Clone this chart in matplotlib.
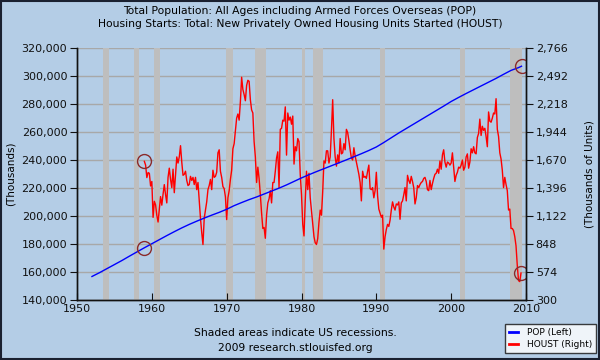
import numpy as np
import matplotlib
matplotlib.use("Agg")
import matplotlib.pyplot as plt
from matplotlib.ticker import FuncFormatter
from matplotlib.lines import Line2D


# =========================
# Data
# =========================
# POP (thousands), annual, last point = mid 2009
pop_years = [1952, 1953, 1954, 1955, 1956, 1957, 1958, 1959, 1960, 1961,
             1962, 1963, 1964, 1965, 1966, 1967, 1968, 1969, 1970, 1971,
             1972, 1973, 1974, 1975, 1976, 1977, 1978, 1979, 1980, 1981,
             1982, 1983, 1984, 1985, 1986, 1987, 1988, 1989, 1990, 1991,
             1992, 1993, 1994, 1995, 1996, 1997, 1998, 1999, 2000, 2001,
             2002, 2003, 2004, 2005, 2006, 2007, 2008, 2009, 2009.4]
pop = [156800, 159500, 162400, 165300, 168200, 171300, 174300, 177300, 180200, 183100,
       186000, 188800, 191500, 194000, 196300, 198500, 200600, 202600, 204800, 207400,
       209600, 211700, 213600, 215700, 217800, 219900, 222200, 224700, 227200, 229500,
       231700, 233800, 235900, 238000, 240100, 242300, 244500, 246800, 249300, 252500,
       255900, 259300, 262500, 265700, 268900, 272100, 275300, 278500, 281800, 284700,
       287500, 290200, 292900, 295600, 298300, 301200, 304000, 306000, 307000]

# HOUST (thousands of units), every two months: Jan, Mar, May, Jul, Sep, Nov
houst = [
    1657, 1620, 1498, 1547, 1540, 1416,   # 1959
    1460, 1109, 1266, 1231, 1128, 1063,   # 1960
    1183, 1312, 1228, 1335, 1429, 1331,   # 1961
    1250, 1500, 1590, 1480, 1400, 1580,   # 1962
    1350, 1530, 1700, 1640, 1700, 1810,   # 1963
    1650, 1520, 1530, 1560, 1470, 1420,   # 1964
    1430, 1510, 1470, 1500, 1430, 1500,   # 1965
    1380, 1450, 1280, 1100, 960, 843,     # 1966
    1100, 1180, 1260, 1380, 1420, 1480,   # 1967
    1380, 1570, 1500, 1510, 1550, 1740,   # 1968
    1770, 1560, 1500, 1410, 1390, 1310,   # 1969
    1087, 1300, 1370, 1480, 1570, 1780,   # 1970
    1830, 1960, 2080, 2120, 2060, 2240,   # 1971
    2480, 2360, 2310, 2250, 2400, 2450,   # 1972
    2440, 2260, 2160, 2130, 1850, 1700,   # 1973
    1450, 1600, 1490, 1330, 1150, 1000,   # 1974
    1010, 904, 1130, 1250, 1290, 1370,    # 1975
    1250, 1450, 1450, 1560, 1690, 1750,   # 1976
    1400, 1970, 1980, 2060, 2050, 2190,   # 1977
    1718, 2130, 2060, 2090, 2020, 2100,   # 1978
    1630, 1800, 1760, 1880, 1850, 1530,   # 1979
    1330, 1040, 927, 1270, 1560, 1380,    # 1980
    1540, 1300, 1170, 1040, 920, 860,     # 1981
    843, 900, 1060, 1180, 1130, 1360,     # 1982
    1660, 1640, 1760, 1760, 1640, 1700,   # 1983
    1960, 2260, 1880, 1700, 1610, 1720,   # 1984
    1640, 1880, 1730, 1740, 1830, 1770,   # 1985
    1970, 1940, 1860, 1770, 1690, 1670,   # 1986
    1790, 1710, 1650, 1590, 1530, 1450,   # 1987
    1270, 1560, 1500, 1510, 1490, 1560,   # 1988
    1620, 1390, 1380, 1400, 1300, 1370,   # 1989
    1550, 1320, 1190, 1150, 1110, 1130,   # 1990
    798, 920, 990, 1040, 1020, 1080,      # 1991
    1180, 1260, 1210, 1180, 1240, 1230,   # 1992
    1260, 1090, 1250, 1270, 1330, 1400,   # 1993
    1270, 1520, 1470, 1440, 1510, 1460,   # 1994
    1400, 1240, 1300, 1420, 1400, 1430,   # 1995
    1450, 1460, 1490, 1500, 1460, 1380,   # 1996
    1370, 1470, 1380, 1440, 1490, 1530,   # 1997
    1540, 1580, 1540, 1660, 1580, 1720,   # 1998
    1770, 1650, 1600, 1650, 1640, 1620,   # 1999
    1640, 1740, 1600, 1460, 1520, 1550,   # 2000
    1600, 1590, 1620, 1670, 1570, 1600,   # 2001
    1700, 1730, 1590, 1650, 1780, 1740,   # 2002
    1800, 1740, 1730, 1890, 1930, 2070,   # 2003
    1910, 2000, 1960, 1980, 1900, 1800,   # 2004
    2140, 2050, 2040, 2080, 2130, 2120,   # 2005
    2270, 1970, 1900, 1740, 1680, 1570,   # 2006
    1400, 1500, 1430, 1370, 1180, 1190,   # 2007
    1000, 1000, 980, 920, 830, 640,       # 2008
    490, 480, 565,                        # 2009
]

# NBER recessions (start, end) in decimal years
recessions = [(1953.5, 1954.33), (1957.6, 1958.3), (1960.3, 1961.1),
              (1969.9, 1970.9), (1973.85, 1975.2), (1980.0, 1980.5),
              (1981.5, 1982.9), (1990.5, 1991.2), (2001.2, 2001.9),
              (2007.9, 2009.45)]

left_ticks = list(range(140000, 320001, 20000))
right_ticks = [300, 574, 848, 1122, 1396, 1670, 1944, 2218, 2492, 2766]
year_ticks = [1950, 1960, 1970, 1980, 1990, 2000, 2010]

houst_x = 1959 + np.arange(len(houst)) / 6.0


# =========================
# Figure
# =========================
plt.rcParams['font.family'] = ['DejaVu Sans']
bg = '#B4CDE6'
fig = plt.figure(figsize=(6, 3.6), dpi=100, facecolor=bg)
ax = fig.add_axes([77 / 600, 1 - 300 / 360, 449 / 600, 252 / 360])
ax2 = ax.twinx()

# right axis drawn underneath, left axis (POP) on top
ax.set_zorder(2)
ax.patch.set_visible(False)
ax2.set_zorder(1)
ax2.patch.set_facecolor('white')

for y in right_ticks:
    ax2.axhline(y, color='#a8a8a8', lw=1, zorder=0.5)
for s, e in recessions:
    ax2.axvspan(s, e, color='#bebebe', lw=0, zorder=1)

ax2.plot(houst_x, houst, color='#ff0000', lw=1, zorder=2)
ax.plot(pop_years, pop, color='#0000ff', lw=1)

# start / end circles
circ = dict(marker='o', ms=10, mfc='none', mec='#8b2a2a', mew=1, ls='none')
ax.plot([pop_years[7], pop_years[-1]], [pop[7], pop[-1]], **circ)
ax2.plot([houst_x[0], houst_x[-1]], [houst[0], houst[-1]], **circ)

ax.set_xlim(1950, 2010)
ax.set_ylim(140000, 320000)
ax2.set_ylim(300, 2766)
ax.set_yticks(left_ticks)
ax2.set_yticks(right_ticks)
ax.set_xticks(year_ticks)
ax.yaxis.set_major_formatter(FuncFormatter(lambda v, p: f'{int(v):,}'))
ax2.yaxis.set_major_formatter(FuncFormatter(lambda v, p: f'{int(v):,}'))

ax.tick_params(axis='y', direction='out', length=5, labelsize=8, colors='#111111', pad=2)
ax2.tick_params(axis='y', direction='out', length=5, labelsize=8, colors='#111111', pad=2)
ax.tick_params(axis='x', direction='in', length=5, labelsize=8, colors='#111111', pad=3)

for a in (ax, ax2):
    a.spines['top'].set_visible(False)
    for sp in ('left', 'right', 'bottom'):
        a.spines[sp].set_color('#111111')
        a.spines[sp].set_linewidth(1)

ax.set_ylabel('(Thousands)', fontsize=7.5, labelpad=4)
ax2.set_ylabel('(Thousands of Units)', fontsize=7.5, labelpad=12)

fig.text(0.5, 1 - 11 / 360, 'Total Population: All Ages including Armed Forces Overseas (POP)',
         ha='center', va='center', fontsize=7.75)
fig.text(0.5, 1 - 24 / 360, 'Housing Starts: Total: New Privately Owned Housing Units Started (HOUST)',
         ha='center', va='center', fontsize=7.75)
fig.text(295 / 600, 1 - 333 / 360, 'Shaded areas indicate US recessions.',
         ha='center', va='center', fontsize=7.75)
fig.text(295 / 600, 1 - 348 / 360, '2009 research.stlouisfed.org',
         ha='center', va='center', fontsize=7.75)

handles = [Line2D([], [], color='#0000ff', lw=2), Line2D([], [], color='#ff0000', lw=2)]
leg = fig.legend(handles, ['POP (Left)', 'HOUST (Right)'], loc='lower right',
                 bbox_to_anchor=(596 / 600, 1 - 353 / 360), borderaxespad=0,
                 fontsize=6.5, frameon=True, fancybox=False, handlelength=1,
                 borderpad=0.45, labelspacing=0.35, handletextpad=1.0)
leg.get_frame().set_edgecolor('#111111')
leg.get_frame().set_facecolor('white')
leg.get_frame().set_linewidth(1)

# outer border
fig.patches.append(plt.Rectangle((0.002, 0.003), 0.996, 0.994, transform=fig.transFigure,
                                 fill=False, ec='#1a2030', lw=1.5))

fig.savefig('out.png', dpi=100, facecolor=bg)
